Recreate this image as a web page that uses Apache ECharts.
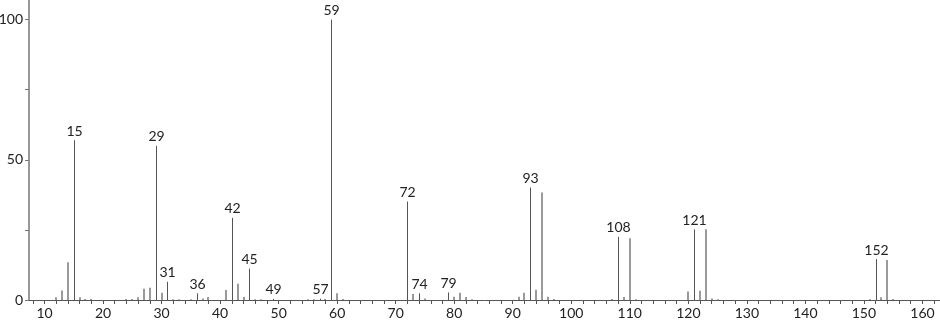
<!DOCTYPE html>
<html>
<head>
<meta charset="utf-8">
<script src="https://cdn.jsdelivr.net/npm/echarts@6/dist/echarts.min.js"></script>
<style>
html,body{margin:0;padding:0;background:#fff;}
#chart{width:940px;height:322px;}
</style>
</head>
<body>
<div id="chart"></div>
<script>
// Labeled peaks (m/z, relative intensity)
var labeledMz  = [15, 29, 31, 36, 42, 45, 49, 57, 59, 72, 74, 79, 93, 108, 121, 152];
var labeledInt = [57, 55, 6.5, 2.4, 29.3, 11.2, 0.4, 0.5, 100, 35.1, 2.4, 2.7, 40.1, 22.5, 25.2, 14.6];

// Unlabeled peaks
var minorMz  = [12, 13, 14, 16, 17, 18, 24, 25, 26, 27, 28, 30, 32, 33, 35, 37, 38, 41, 43, 44, 46, 47, 55, 56, 58, 60, 61, 73, 75, 80, 81, 82, 83, 91, 92, 94, 95, 96, 97, 107, 109, 110, 111, 120, 122, 123, 124, 125, 151, 153, 154, 155];
var minorInt = [1.0, 3.4, 13.5, 1.0, 0.4, 0.4, 0.4, 0.4, 1.0, 4.0, 4.4, 2.6, 0.3, 0.3, 0.3, 0.5, 1.1, 3.6, 5.8, 1.1, 0.3, 0.3, 0.3, 0.3, 0.4, 2.4, 0.4, 2.1, 0.5, 1.2, 2.6, 1.1, 0.3, 1.2, 2.6, 3.7, 38.3, 1.2, 0.4, 0.4, 1.1, 22.0, 0.3, 3.0, 3.3, 25.2, 0.5, 0.3, 0.3, 1.0, 14.3, 0.4];

// Axis ticks and labels
var xLabelValues = [10, 20, 30, 40, 50, 60, 70, 80, 90, 100, 110, 120, 130, 140, 150, 160];
var xTickValues  = [8, 10, 12, 14, 16, 18, 20, 22, 24, 26, 28, 30, 32, 34, 36, 38, 40, 42, 44, 46, 48, 50, 52, 54, 56, 58, 60, 62, 64, 66, 68, 70, 72, 74, 76, 78, 80, 82, 84, 86, 88, 90, 92, 94, 96, 98, 100, 102, 104, 106, 108, 110, 112, 114, 116, 118, 120, 122, 124, 126, 128, 130, 132, 134, 136, 138, 140, 142, 144, 146, 148, 150, 152, 154, 156, 158, 160, 162];
var yLabelValues = [0, 50, 100];
var yTickValues  = [0, 25, 50, 75, 100];

var FONT = '14px Lato, "Liberation Sans", sans-serif';

function pairs(a, b) { return a.map(function (v, i) { return [v, b[i]]; }); }

function makeRender(color, width, withLabel) {
  return function (params, api) {
    var x = api.value(0), v = api.value(1);
    var p0 = api.coord([x, 0]);
    var p1 = api.coord([x, v]);
    var px = Math.round(p0[0]) + (width % 2 ? 0.5 : 0);
    var children = [{
      type: 'line',
      shape: { x1: px, y1: p0[1], x2: px, y2: p1[1] },
      style: { stroke: color, lineWidth: width }
    }];
    if (withLabel) {
      children.push({
        type: 'text',
        style: {
          text: String(x), x: px, y: p1[1] - 2,
          align: 'center', verticalAlign: 'bottom',
          fill: '#222', font: FONT
        }
      });
    }
    return { type: 'group', children: children };
  };
}

var chart = echarts.init(document.getElementById('chart'), null, { renderer: 'canvas' });
chart.setOption({
  animation: false,
  grid: { left: 29, right: 0, top: 0, bottom: 22, containLabel: false, outerBoundsMode: 'none' },
  xAxis: {
    type: 'value', min: 7.35, max: 163,
    axisLine: { show: true, onZero: false, lineStyle: { color: '#555', width: 1 } },
    axisTick: { show: true, customValues: xTickValues, length: 4, inside: false, lineStyle: { color: '#555', width: 1 } },
    axisLabel: { show: true, customValues: xLabelValues, margin: 6, color: '#222', fontSize: 14, fontFamily: 'Lato, "Liberation Sans", sans-serif' },
    splitLine: { show: false }
  },
  yAxis: {
    type: 'value', min: 0, max: 107,
    axisLine: { show: true, lineStyle: { color: '#999', width: 2 } },
    axisTick: { show: true, customValues: yTickValues, length: 4, lineStyle: { color: '#777', width: 1 } },
    axisLabel: { show: true, customValues: yLabelValues, margin: 6, color: '#222', fontSize: 14, fontFamily: 'Lato, "Liberation Sans", sans-serif' },
    splitLine: { show: false }
  },
  series: [
    {
      type: 'custom', name: 'minor',
      renderItem: makeRender('#9a9a9a', 2, false),
      data: pairs(minorMz, minorInt),
      clip: false
    },
    {
      type: 'custom', name: 'labeled',
      renderItem: makeRender('#555', 1, true),
      data: pairs(labeledMz, labeledInt),
      clip: false
    }
  ]
});
</script>
</body>
</html>
